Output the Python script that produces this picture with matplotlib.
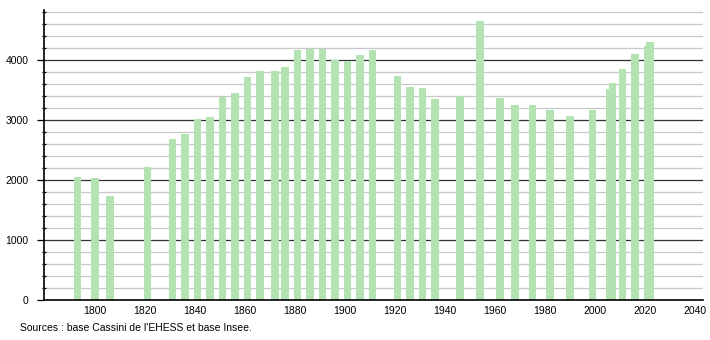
import matplotlib
matplotlib.use("Agg")
import matplotlib.pyplot as plt
from matplotlib.ticker import MultipleLocator

plt.rcParams['font.family'] = ['Liberation Sans', 'DejaVu Sans']

# census years and population
years = [1793, 1800, 1806, 1821, 1831, 1836, 1841, 1846, 1851, 1856,
         1861, 1866, 1872, 1876, 1881, 1886, 1891, 1896, 1901, 1906,
         1911, 1921, 1926, 1931, 1936, 1946, 1954, 1962, 1968, 1975,
         1982, 1990, 1999, 2006, 2007, 2011, 2016, 2021, 2022]
population = [2050, 2033, 1733, 2217, 2683, 2767, 3017, 3050, 3383, 3450,
              3717, 3817, 3817, 3883, 4167, 4183, 4183, 4000, 3983, 4083,
              4167, 3733, 3550, 3533, 3350, 3400, 4650, 3367, 3250, 3250,
              3167, 3067, 3167, 3511, 3611, 3850, 4100, 4233, 4300]

x_ticks = list(range(1800, 2041, 20))
source = "Sources : base Cassini de l'EHESS et base Insee."

fig = plt.figure(figsize=(7.1, 3.4), dpi=100)
ax = fig.add_axes([44 / 710, 1 - 300 / 340, 659 / 710, 290 / 340])

# grid
for v in range(200, 4900, 200):
    if v % 1000 == 0:
        ax.axhline(v, color='#333333', lw=0.9, zorder=1)
    else:
        ax.axhline(v, color='#c8c8c8', lw=0.9, zorder=1)

ax.bar(years, population, width=3, color='#b3e3b3', zorder=2)

ax.set_xlim(1779.6, 2043.2)
ax.set_ylim(0, 4833)
ax.set_xticks(x_ticks)
ax.yaxis.set_major_locator(MultipleLocator(1000))
ax.yaxis.set_minor_locator(MultipleLocator(200))
ax.tick_params(axis='x', length=0, labelsize=7.5, pad=4)
ax.tick_params(axis='y', which='major', length=5, width=0.9, labelsize=7.5, pad=6)
ax.tick_params(axis='y', which='minor', length=2.5, width=0.9, direction='inout')

for s in ['top', 'right']:
    ax.spines[s].set_visible(False)
for s in ['left', 'bottom']:
    ax.spines[s].set_linewidth(1.2)
    ax.spines[s].set_zorder(3)

fig.text(20 / 710, 1 - 328 / 340, source, fontsize=7.5, va='center', ha='left')

fig.savefig("out.png", dpi=100)
